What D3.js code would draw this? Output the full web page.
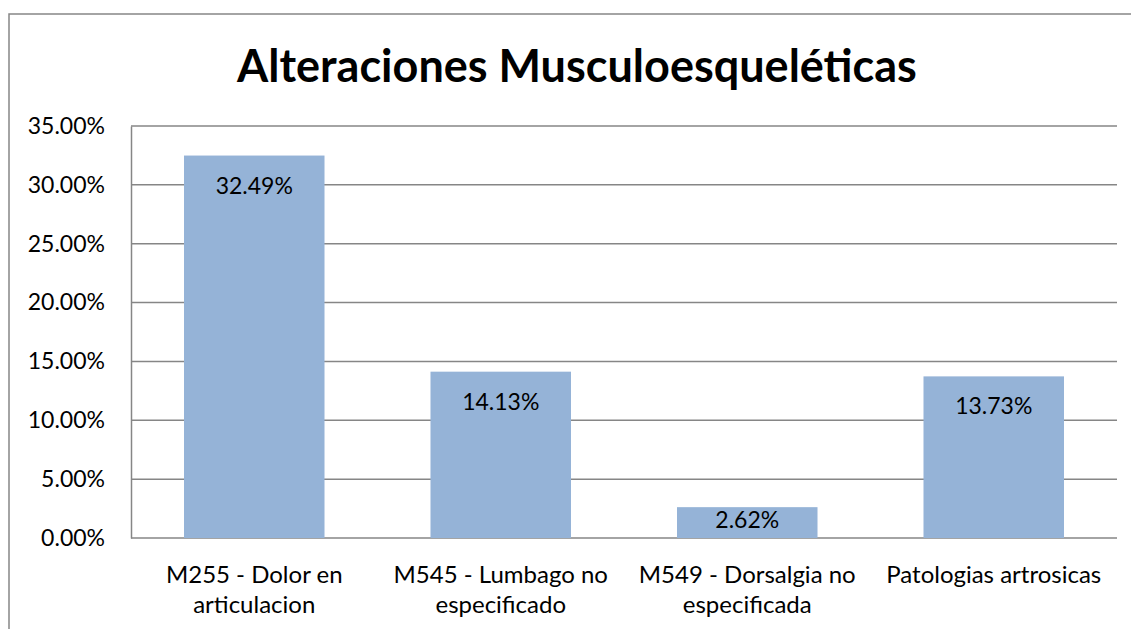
<!DOCTYPE html>
<html>
<head>
<meta charset="utf-8">
<style>
  body { margin: 0; background: #fff; }
  svg text { font-family: Lato, "Open Sans", sans-serif; fill: #000; }
</style>
<title>Alteraciones Musculoesqueléticas</title>
</head>
<body>
<script src="https://cdn.jsdelivr.net/npm/d3@7"></script>
<script>
// datos
var categories = [
  ["M255 - Dolor en", "articulacion"],
  ["M545 - Lumbago no", "especificado"],
  ["M549 - Dorsalgia no", "especificada"],
  ["Patologias artrosicas"]
];
var values = [32.49, 14.13, 2.62, 13.73];
var yTicks = [0, 5, 10, 15, 20, 25, 30, 35];
var title = "Alteraciones Musculoesqueléticas";

var W = 1131, H = 629;
var margin = {top: 126, right: 14, bottom: 91, left: 131};

var svg = d3.select("body").append("svg")
  .attr("width", W)
  .attr("height", H);

// marco del grafico
svg.append("path")
  .attr("d", "M9," + H + "V14H" + W)
  .attr("fill", "none")
  .attr("stroke", "#868686")
  .attr("stroke-width", 1.5);

svg.append("text")
  .attr("x", 577)
  .attr("y", 82)
  .attr("text-anchor", "middle")
  .style("font-size", "45px")
  .style("font-weight", 700)
  .text(title);

var x = d3.scaleBand()
  .domain(d3.range(categories.length))
  .range([margin.left, W - margin.right])
  .paddingInner(0.43)
  .paddingOuter(0.215);

var y = d3.scaleLinear()
  .domain([0, 35])
  .range([H - margin.bottom, margin.top]);

// lineas de division
svg.append("g")
  .selectAll("line")
  .data(yTicks)
  .enter().append("line")
    .attr("x1", margin.left)
    .attr("x2", W - margin.right)
    .attr("y1", d => y(d))
    .attr("y2", d => y(d))
    .attr("stroke", "#868686")
    .attr("stroke-width", 1.5);

// eje y
var yAxis = svg.append("g")
  .attr("transform", "translate(" + margin.left + ",0)")
  .call(d3.axisLeft(y).tickValues(yTicks).tickSize(0).tickPadding(26)
    .tickFormat(d => d.toFixed(2) + "%"));
yAxis.select(".domain").attr("stroke", "#868686").attr("stroke-width", 1.5);
yAxis.selectAll("text")
  .style("font-size", "23px")
  .style("font-family", "Lato, sans-serif")
  .attr("fill", "#000");

// barras
svg.append("g")
  .selectAll("rect")
  .data(values)
  .enter().append("rect")
    .attr("x", (d, i) => x(i))
    .attr("y", d => y(d))
    .attr("width", x.bandwidth())
    .attr("height", d => y(0) - y(d))
    .attr("fill", "#95B3D7");

// etiquetas de valor
svg.append("g")
  .selectAll("text")
  .data(values)
  .enter().append("text")
    .attr("x", (d, i) => x(i) + x.bandwidth() / 2)
    .attr("y", d => Math.min(y(d) + 30, (y(d) + y(0)) / 2 - 3))
    .attr("dy", "0.35em")
    .attr("text-anchor", "middle")
    .style("font-size", "23px")
    .text(d => d.toFixed(2) + "%");

// etiquetas de categoria
var cat = svg.append("g")
  .selectAll("text")
  .data(categories)
  .enter().append("text")
    .attr("text-anchor", "middle")
    .attr("y", 583)
    .style("font-size", "24px");
cat.selectAll("tspan")
  .data((d, i) => d.map(t => ({t: t, i: i})))
  .enter().append("tspan")
    .attr("x", d => x(d.i) + x.bandwidth() / 2)
    .attr("dy", (d, j) => j === 0 ? 0 : 30)
    .text(d => d.t);
</script>
</body>
</html>
